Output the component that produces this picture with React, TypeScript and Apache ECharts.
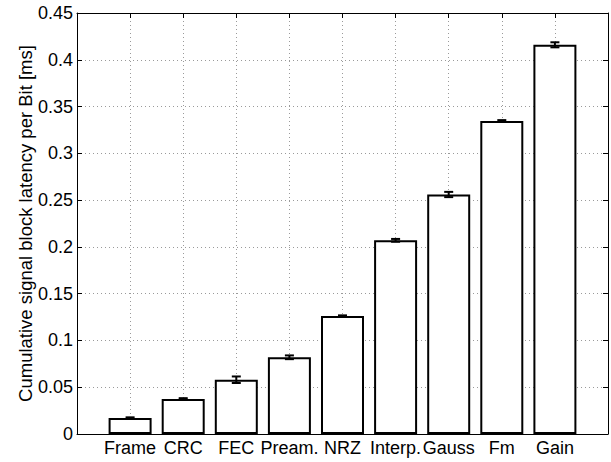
import React, { useEffect, useRef } from 'react';
import * as echarts from 'echarts';

const categories = ['Frame', 'CRC', 'FEC', 'Pream.', 'NRZ', 'Interp.', 'Gauss', 'Fm', 'Gain'];
const latency = [0.017, 0.0375, 0.058, 0.082, 0.126, 0.207, 0.256, 0.3345, 0.416];
const errors = [0.0008, 0.0008, 0.0035, 0.002, 0.0008, 0.0015, 0.0028, 0.001, 0.0027];
const yLabel = 'Cumulative signal block latency per Bit [ms]';

const FONT = '"Liberation Sans", Arial, Helvetica, sans-serif';

export default function App() {
  const ref = useRef<HTMLDivElement>(null);
  useEffect(() => {
    if (!ref.current) return;
    const chart = echarts.init(ref.current, undefined, { renderer: 'svg' });
    const barData = categories.map((c, i) => [i + 1, latency[i]]);
    const errData = categories.map((c, i) => [i + 1, latency[i], errors[i]]);
    const axisLine = { show: true, onZero: false, lineStyle: { color: '#000', width: 1 } };
    const tick = { show: true, inside: true, length: 5, lineStyle: { color: '#000', width: 1 } };
    chart.setOption({
      animation: false,
      backgroundColor: '#fff',
      grid: { left: 77, right: -8, top: 13, bottom: 28 },
      xAxis: [
        {
          type: 'value', min: 0, max: 10, interval: 1, position: 'bottom',
          axisLine, axisTick: tick,
          axisLabel: {
            color: '#000', fontSize: 18, fontFamily: FONT, margin: 5,
            formatter: (v: number) => categories[Math.round(v) - 1] ?? '',
          },
          splitLine: { show: true, lineStyle: { type: [1, 3], color: '#9a9a9a', width: 1 } },
        },
        {
          type: 'value', min: 0, max: 10, interval: 1, position: 'top',
          axisLine, axisTick: tick, axisLabel: { show: false }, splitLine: { show: false },
        },
      ],
      yAxis: [
        {
          type: 'value', min: 0, max: 0.45, interval: 0.05, position: 'left',
          axisLine, axisTick: tick,
          axisLabel: {
            color: '#000', fontSize: 18, fontFamily: FONT, margin: 4,
            formatter: (v: number) => String(parseFloat(v.toFixed(3))),
          },
          splitLine: { show: true, lineStyle: { type: [1, 3], color: '#9a9a9a', width: 1 } },
          name: yLabel, nameLocation: 'middle', nameGap: 42, nameMoveOverlap: false,
          nameTextStyle: { color: '#000', fontSize: 18.5, fontFamily: FONT },
        },
        {
          type: 'value', min: 0, max: 0.45, interval: 0.05, position: 'right',
          axisLine, axisTick: tick, axisLabel: { show: false }, splitLine: { show: false },
        },
      ],
      series: [
        {
          type: 'bar', xAxisIndex: 0, yAxisIndex: 0, data: barData, barWidth: 43,
          itemStyle: { color: '#fff', borderColor: '#000', borderWidth: 2 },
          z: 2,
        },
        {
          type: 'custom', xAxisIndex: 0, yAxisIndex: 0, data: errData, z: 3,
          encode: { x: 0, y: 1 },
          renderItem: (params: any, api: any) => {
            const x = api.value(0);
            const v = api.value(1);
            const e = api.value(2);
            const top = api.coord([x, v + e]);
            const bot = api.coord([x, v - e]);
            const hw = 4.5;
            const style = { stroke: '#000', lineWidth: 2 };
            return {
              type: 'group',
              children: [
                { type: 'line', shape: { x1: top[0], y1: top[1], x2: bot[0], y2: bot[1] }, style },
                { type: 'line', shape: { x1: top[0] - hw, y1: top[1], x2: top[0] + hw, y2: top[1] }, style },
                { type: 'line', shape: { x1: bot[0] - hw, y1: bot[1], x2: bot[0] + hw, y2: bot[1] }, style },
              ],
            };
          },
        },
      ],
    });
    return () => chart.dispose();
  }, []);
  return (
    <div
      ref={ref}
      style={{ position: 'absolute', left: 0, top: 0, width: 611, height: 462, background: '#fff' }}
    />
  );
}
